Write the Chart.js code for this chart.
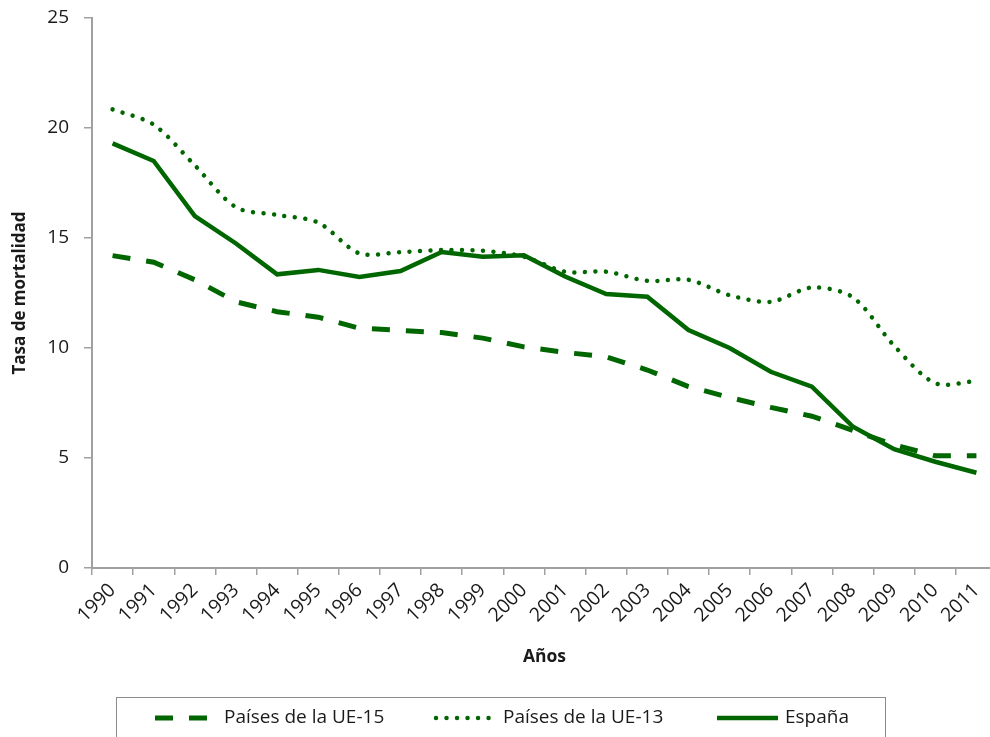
<!DOCTYPE html>
<html>
<head>
<meta charset="utf-8">
<script src="https://cdn.jsdelivr.net/npm/chart.js@4"></script>
<style>
  html, body { margin: 0; padding: 0; background: #fff; overflow: hidden; }
  #wrap { width: 990px; height: 737px; overflow: hidden; }
</style>
</head>
<body>
<div id="wrap"><canvas id="mort" width="1000" height="760" style="width:1000px;height:760px"></canvas></div>
<script>
const years = ['1990', '1991', '1992', '1993', '1994', '1995', '1996', '1997', '1998', '1999', '2000',
    '2001', '2002', '2003', '2004', '2005', '2006', '2007', '2008', '2009', '2010', '2011'];
const ue15 = [14.2, 13.9, 13.1, 12.1, 11.65, 11.4, 10.9, 10.8, 10.7, 10.45, 10.05,
    9.8, 9.6, 9.0, 8.25, 7.75, 7.3, 6.9, 6.25, 5.6, 5.1, 5.1];
const ue13 = [20.85, 20.15, 18.3, 16.4, 16.05, 15.7, 14.3, 14.36, 14.45, 14.42, 14.15,
    13.47, 13.47, 13.05, 13.1, 12.4, 12.1, 12.75, 12.3, 10.1, 8.4, 8.5];
const espana = [19.3, 18.5, 16.0, 14.75, 13.35, 13.55, 13.23, 13.5, 14.36, 14.15, 14.22,
    13.25, 12.45, 12.33, 10.82, 10.0, 8.92, 8.24, 6.42, 5.4, 4.83, 4.33];
const yTicks = [0, 5, 10, 15, 20, 25];

const green = '#006600';
const axisGrey = '#a0a0a0';
const textCol = '#1a1a1a';
const fontFam = "'Open Sans', sans-serif";

// legend drawn as a box under the chart, like the original
const boxLegend = {
    id: 'boxLegend',
    afterDraw(chart) {
        const ctx = chart.ctx;
        const items = [
            { ds: 0, x0: 155, x1: 210, tx: 224 },
            { ds: 1, x0: 436, x1: 492, tx: 503 },
            { ds: 2, x0: 717, x1: 778, tx: 785 }
        ];
        const y = 718;
        ctx.save();
        ctx.strokeStyle = '#8c8c8c';
        ctx.lineWidth = 1;
        ctx.strokeRect(116.5, 697.5, 769, 90);
        items.forEach(it => {
            const ds = chart.data.datasets[it.ds];
            ctx.strokeStyle = ds.borderColor;
            ctx.lineWidth = ds.borderWidth;
            ctx.lineCap = ds.borderCapStyle || 'butt';
            ctx.setLineDash(ds.borderDash || []);
            ctx.beginPath();
            ctx.moveTo(it.x0, y);
            ctx.lineTo(it.x1, y);
            ctx.stroke();
            ctx.setLineDash([]);
            ctx.fillStyle = textCol;
            ctx.font = "19px " + fontFam;
            ctx.textBaseline = 'middle';
            ctx.textAlign = 'left';
            ctx.fillText(ds.label, it.tx, y);
        });
        ctx.restore();
    }
};

new Chart(document.getElementById('mort'), {
    type: 'line',
    data: {
        labels: years,
        datasets: [{
            label: 'Países de la UE-15',
            data: ue15,
            borderColor: green,
            borderWidth: 5,
            borderDash: [18, 16],
            borderCapStyle: 'butt',
            pointRadius: 0,
            tension: 0
        }, {
            label: 'Países de la UE-13',
            data: ue13,
            borderColor: green,
            borderWidth: 4.5,
            borderDash: [0.01, 10.5],
            borderCapStyle: 'round',
            pointRadius: 0,
            tension: 0.3
        }, {
            label: 'España',
            data: espana,
            borderColor: green,
            borderWidth: 4.5,
            pointRadius: 0,
            tension: 0
        }]
    },
    options: {
        responsive: false,
        animation: false,
        layout: { padding: { left: 0, right: 3, top: 18, bottom: 92 } },
        plugins: {
            legend: { display: false },
            tooltip: { enabled: false }
        },
        scales: {
            x: {
                offset: true,
                grid: { offset: true, drawOnChartArea: false, tickLength: 7, color: axisGrey, lineWidth: 1.5 },
                border: { color: axisGrey, width: 2 },
                ticks: { minRotation: 45, maxRotation: 45, autoSkip: false, color: textCol, font: { family: fontFam, size: 19.5 }, padding: 4 },
                title: { display: true, text: 'Años', color: textCol, font: { family: fontFam, size: 17.5, weight: 'bold' }, padding: { top: 0, bottom: 0.5 } },
                afterFit(scale) { scale.height = 100; scale.paddingLeft = 0; scale.paddingRight = 0; }
            },
            y: {
                min: 0,
                max: 25,
                afterBuildTicks(scale) { scale.ticks = yTicks.map(v => ({ value: v })); },
                grid: { drawOnChartArea: false, tickLength: 8, color: axisGrey, lineWidth: 1.5 },
                border: { color: axisGrey, width: 2 },
                ticks: { color: textCol, font: { family: fontFam, size: 19 }, padding: 15 },
                title: { display: true, text: 'Tasa de mortalidad', color: textCol, font: { family: fontFam, size: 17, weight: 'bold' }, padding: { top: 9.5, bottom: 0 } },
                afterFit(scale) { scale.width = 92; scale.paddingTop = 0; scale.paddingBottom = 0; }
            }
        }
    },
    plugins: [boxLegend]
});
</script>
</body>
</html>
